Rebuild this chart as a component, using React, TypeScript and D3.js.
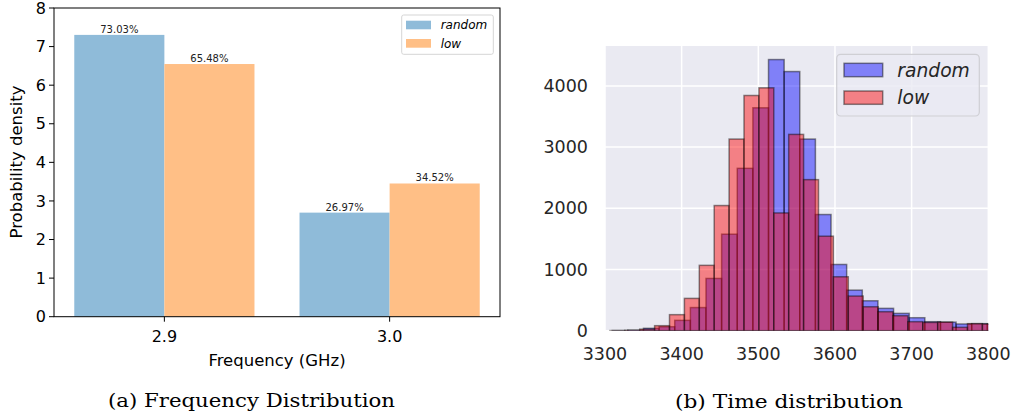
import React from "react";
import * as d3 from "d3";

// ---- Left chart data ----
const freqCategories = ["2.9", "3.0"];
const freqRandom = [7.303, 2.697];
const freqLow = [6.548, 3.452];
const freqRandomLabels = ["73.03%", "26.97%"];
const freqLowLabels = ["65.48%", "34.52%"];
const freqYTicks = [0, 1, 2, 3, 4, 5, 6, 7, 8];

// ---- Right chart data (histograms) ----
const randomBinStart = 3309.4;
const randomBinWidth = 20.39;
const randomCounts = [3, 10, 39, 65, 169, 378, 854, 1577, 2653, 3642, 4430, 4234, 3131, 1898, 1082, 663, 489, 365, 283, 212, 147, 140, 110, 115, 110];
const lowBinStart = 3306.4;
const lowBinWidth = 19.435;
const lowCounts = [2, 5, 25, 82, 262, 528, 1068, 2045, 3131, 3843, 3968, 1924, 3207, 2468, 1544, 881, 566, 391, 310, 245, 147, 135, 140, 55, 115, 110];
const timeXTicks = [3300, 3400, 3500, 3600, 3700, 3800];
const timeYTicks = [0, 1000, 2000, 3000, 4000];

const SANS = "DejaVu Sans, sans-serif";
const SERIF = "DejaVu Serif, Liberation Serif, serif";

function LeftChart() {
  const x = d3.scaleLinear().domain([-0.49, 1.49]).range([54, 500]);
  const y = d3.scaleLinear().domain([0, 8]).range([316.7, 8]);
  const bw = 0.4;
  const blue = "#8fbbd9";
  const orange = "#ffbf86";
  return (
    <g>
      {freqCategories.map((c, i) => (
        <g key={c}>
          <rect x={x(i - bw)} y={y(freqRandom[i])} width={x(i) - x(i - bw)} height={y(0) - y(freqRandom[i])} fill={blue} />
          <rect x={x(i)} y={y(freqLow[i])} width={x(i + bw) - x(i)} height={y(0) - y(freqLow[i])} fill={orange} />
          <text x={x(i - bw / 2)} y={y(freqRandom[i]) - 2} fontSize={10} textAnchor="middle" fontFamily={SANS} fill="#222">{freqRandomLabels[i]}</text>
          <text x={x(i + bw / 2)} y={y(freqLow[i]) - 2} fontSize={10} textAnchor="middle" fontFamily={SANS} fill="#222">{freqLowLabels[i]}</text>
        </g>
      ))}
      <rect x={54} y={8} width={446} height={308.7} fill="none" stroke="#000" strokeWidth={1} />
      {freqYTicks.map((t) => (
        <g key={t}>
          <line x1={49} x2={54} y1={y(t)} y2={y(t)} stroke="#000" />
          <text x={46} y={y(t)} dy="0.35em" textAnchor="end" fontSize={16} fontFamily={SANS} fill="#000">{t}</text>
        </g>
      ))}
      {freqCategories.map((c, i) => (
        <g key={c}>
          <line x1={x(i)} x2={x(i)} y1={316.7} y2={321.7} stroke="#000" />
          <text x={x(i)} y={336.5} dy="0.35em" textAnchor="middle" fontSize={16} fontFamily={SANS} fill="#000">{c}</text>
        </g>
      ))}
      <text x={277} y={360} dy="0.35em" textAnchor="middle" fontSize={16.5} fontFamily={SANS}>Frequency (GHz)</text>
      <text transform="translate(16,162) rotate(-90)" dy="0.35em" textAnchor="middle" fontSize={16.5} fontFamily={SANS}>Probability density</text>
      {/* legend */}
      <rect x={401.7} y={15} width={91.6} height={39.3} rx={2} fill="#fff" fillOpacity={0.8} stroke="#d5d5d5" />
      <rect x={406} y={20.7} width={25} height={8.6} fill={blue} />
      <rect x={406} y={39} width={25} height={8.7} fill={orange} />
      <text x={440.7} y={25} dy="0.35em" fontSize={12} fontStyle="italic" fontFamily={SANS}>random</text>
      <text x={440.7} y={43.3} dy="0.35em" fontSize={12} fontStyle="italic" fontFamily={SANS}>low</text>
      <text x={108} y={407} textLength={287} lengthAdjust="spacingAndGlyphs" fontSize={19} fontFamily={SERIF} fill="#000">(a) Frequency Distribution</text>
    </g>
  );
}

function RightChart() {
  const x = d3.scaleLinear().domain([3300, 3800]).range([605, 988.3]);
  const yMax = (d3.max([...randomCounts, ...lowCounts]) as number) * 1.05;
  const y = d3.scaleLinear().domain([0, yMax]).range([330.7, 46]);
  const alpha = 0.45;
  const bins = (start: number, w: number, counts: number[]) =>
    counts.map((c, i) => ({ x0: start + i * w, x1: start + (i + 1) * w, c }));
  const rb = bins(randomBinStart, randomBinWidth, randomCounts);
  const lb = bins(lowBinStart, lowBinWidth, lowCounts);
  const drawBars = (bs: { x0: number; x1: number; c: number }[], color: string, key: string) =>
    bs.map((b, i) => (
      <rect
        key={key + i}
        x={x(b.x0)}
        y={y(b.c)}
        width={x(b.x1) - x(b.x0)}
        height={y(0) - y(b.c)}
        fill={color}
        fillOpacity={alpha}
        stroke="#000"
        strokeOpacity={alpha}
        strokeWidth={1.5}
      />
    ));
  return (
    <g>
      <defs>
        <clipPath id="plotclip">
          <rect x={605} y={46} width={383.3} height={284.7} />
        </clipPath>
      </defs>
      <rect x={605} y={46} width={383.3} height={284.7} fill="#EAEAF2" />
      {timeXTicks.map((t) => (
        <line key={t} x1={x(t)} x2={x(t)} y1={46} y2={330.7} stroke="#fff" strokeWidth={1.5} />
      ))}
      {timeYTicks.map((t) => (
        <line key={t} x1={605} x2={988.3} y1={y(t)} y2={y(t)} stroke="#fff" strokeWidth={1.5} />
      ))}
      <g clipPath="url(#plotclip)">
        {drawBars(rb, "#0000ff", "r")}
        {drawBars(lb, "#ff0000", "l")}
      </g>
      {timeYTicks.map((t) => (
        <text key={t} x={588} y={y(t)} dy="0.35em" textAnchor="end" fontSize={17.5} fontFamily={SANS} fill="#262626">{t}</text>
      ))}
      {timeXTicks.map((t) => (
        <text key={t} x={x(t)} y={354} dy="0.35em" textAnchor="middle" fontSize={17.5} fontFamily={SANS} fill="#262626">{t}</text>
      ))}
      {/* legend */}
      <rect x={836.7} y={54.3} width={142.6} height={61.7} rx={4} fill="#EAEAF2" fillOpacity={0.8} stroke="#cfcfd4" strokeWidth={1.2} />
      <rect x={844} y={63.3} width={38.7} height={13.4} fill="#0000ff" fillOpacity={alpha} stroke="#000" strokeOpacity={alpha} strokeWidth={1.5} />
      <rect x={844} y={91} width={38.7} height={13.3} fill="#ff0000" fillOpacity={alpha} stroke="#000" strokeOpacity={alpha} strokeWidth={1.5} />
      <text x={897.3} y={70} dy="0.35em" fontSize={18.7} fontStyle="italic" fontFamily={SANS} fill="#262626">random</text>
      <text x={897.3} y={97.7} dy="0.35em" fontSize={18.7} fontStyle="italic" fontFamily={SANS} fill="#262626">low</text>
      <text x={675} y={408} textLength={228} lengthAdjust="spacingAndGlyphs" fontSize={19} fontFamily={SERIF} fill="#000">(b) Time distribution</text>
    </g>
  );
}

export default function App() {
  return (
    <svg
      width={1014}
      height={416}
      style={{ position: "absolute", left: 0, top: 0, background: "#fff" }}
      xmlns="http://www.w3.org/2000/svg"
    >
      <rect width={1014} height={416} fill="#fff" />
      <LeftChart />
      <RightChart />
    </svg>
  );
}
